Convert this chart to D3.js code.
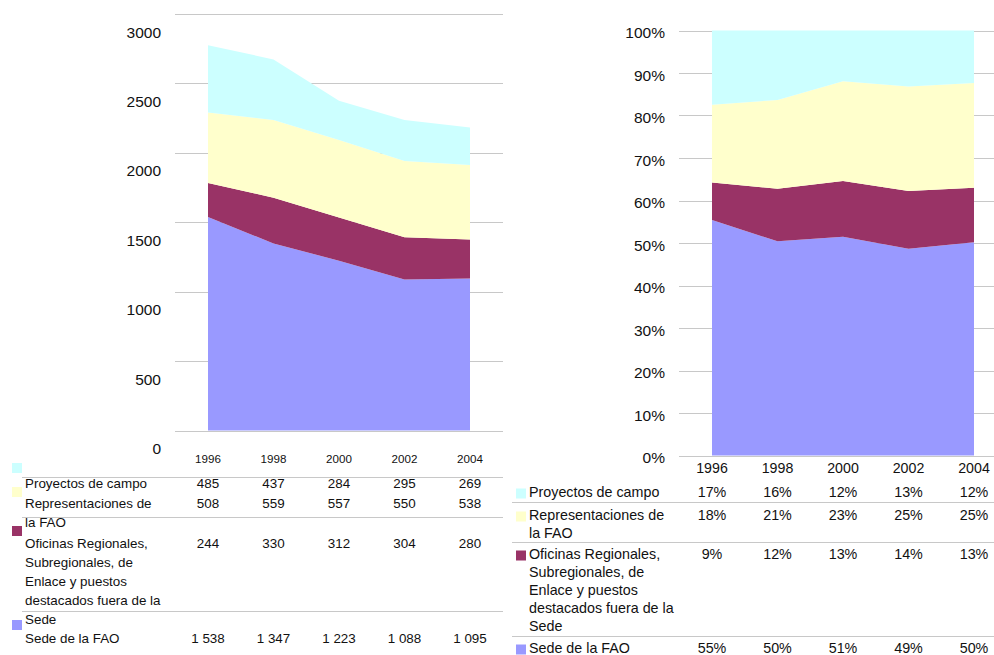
<!DOCTYPE html>
<html>
<head>
<meta charset="utf-8">
<script src="https://cdn.jsdelivr.net/npm/d3@7"></script>
<style>
  html, body { margin: 0; padding: 0; background: #fff; }
  svg { display: block; font-family: "Liberation Sans", Arial, Helvetica, sans-serif; fill: #111; }
</style>
</head>
<body>
<svg id="chart" width="994" height="655"></svg>
<script>
// ---------- DATA ----------
const years = ["1996", "1998", "2000", "2002", "2004"];
const seriesKeys = ["sede", "oficinas", "representaciones", "proyectos"]; // stacking order, bottom -> top
const proyectos = [485, 437, 284, 295, 269];
const representaciones = [508, 559, 557, 550, 538];
const oficinas = [244, 330, 312, 304, 280];
const sede = [1538, 1347, 1223, 1088, 1095];
const rowKeys = ["proyectos", "representaciones", "oficinas", "sede"]; // table order
const rowLabelsLeft = [
  ["Proyectos de campo"],
  ["Representaciones de", "la FAO"],
  ["Oficinas Regionales,", "Subregionales, de", "Enlace y puestos", "destacados fuera de la", "Sede"],
  ["Sede de la FAO"]
];
const rowLabelsRight = rowLabelsLeft;
const seriesColors = { proyectos: "#CCFFFF", representaciones: "#FFFFCC", oficinas: "#993366", sede: "#9999FF" };
const leftTicks = [0, 500, 1000, 1500, 2000, 2500, 3000];
const rightTicks = [0, 0.1, 0.2, 0.3, 0.4, 0.5, 0.6, 0.7, 0.8, 0.9, 1.0];

// ---------- PREP ----------
const valuesByKey = { proyectos, representaciones, oficinas, sede };
const rows = years.map((y, i) => {
  const r = { year: y };
  seriesKeys.forEach(k => r[k] = valuesByKey[k][i]);
  return r;
});
const totals = rows.map(r => seriesKeys.reduce((s, k) => s + r[k], 0));
const pctRows = rows.map((r, i) => {
  const p = { year: r.year };
  seriesKeys.forEach(k => p[k] = r[k] / totals[i]);
  return p;
});
const stackAbs = d3.stack().keys(seriesKeys)(rows);
const stackPct = d3.stack().keys(seriesKeys)(pctRows);

const locale = d3.formatLocale({ decimal: ",", thousands: "\u00a0", grouping: [3], currency: ["", ""] });
const fmtNum = v => locale.format(",d")(v).replace(/\u00a0/g, " ");
const fmtPct = d3.format(".0%");

const svg = d3.select("#chart");
const gridColor = "#c8c8c8";

// ---------- LEFT CHART ----------
const xL = d3.scalePoint().domain(years).range([208, 470]);
const yL = d3.scaleLinear().domain([0, 3000]).range([430.5, 14]);

const gL = svg.append("g");
gL.selectAll("line.grid").data(leftTicks).join("line")
  .attr("x1", 175).attr("x2", 503)
  .attr("y1", d => Math.round(yL(d)) + 0.5).attr("y2", d => Math.round(yL(d)) + 0.5)
  .attr("stroke", gridColor).attr("stroke-width", 1);

const areaL = d3.area().x(d => xL(d.data.year)).y0(d => yL(d[0])).y1(d => yL(d[1]));
gL.selectAll("path.area").data(stackAbs).join("path")
  .attr("d", areaL).attr("fill", d => seriesColors[d.key]);

gL.selectAll("text.ytick").data(leftTicks).join("text")
  .attr("x", 161).attr("y", d => yL(d) + 18)
  .attr("text-anchor", "end").attr("dominant-baseline", "central")
  .style("font-size", "15.5px").text(d => d);

// left table
gL.selectAll("text.year").data(years).join("text")
  .attr("x", d => xL(d)).attr("y", 463)
  .attr("text-anchor", "middle").style("font-size", "11.6px").text(d => d);

const leftRowStart = [488, 508, 547.5, 643];
const leftSquareY = [463, 487, 526, 620];
const leftLinesY = [477.5, 517.5, 611.5];
gL.selectAll("line.tbl").data(leftLinesY).join("line")
  .attr("x1", 22).attr("x2", 503).attr("y1", d => d).attr("y2", d => d)
  .attr("stroke", gridColor);
rowKeys.forEach((k, ri) => {
  gL.append("rect").attr("x", 12).attr("y", leftSquareY[ri]).attr("width", 10).attr("height", 10)
    .attr("fill", seriesColors[k]);
  gL.append("g").selectAll("text").data(rowLabelsLeft[ri]).join("text")
    .attr("x", 25).attr("y", (d, li) => leftRowStart[ri] + li * 19)
    .style("font-size", "13.4px").text(d => d);
  gL.append("g").selectAll("text").data(years).join("text")
    .attr("x", d => xL(d)).attr("y", leftRowStart[ri])
    .attr("text-anchor", "middle").style("font-size", "13.4px")
    .text((d, i) => fmtNum(valuesByKey[k][i]));
});

// ---------- RIGHT CHART ----------
const xR = d3.scalePoint().domain(years).range([712, 974]);
const yR = d3.scaleLinear().domain([0, 1]).range([455.5, 30.5]);
const gR = svg.append("g");
gR.selectAll("line.grid").data(rightTicks).join("line")
  .attr("x1", 679).attr("x2", 994)
  .attr("y1", d => Math.round(yR(d)) + 0.5).attr("y2", d => Math.round(yR(d)) + 0.5)
  .attr("stroke", gridColor).attr("stroke-width", 1);

const areaR = d3.area().x(d => xR(d.data.year)).y0(d => yR(d[0])).y1(d => yR(d[1]));
gR.selectAll("path.area").data(stackPct).join("path")
  .attr("d", areaR).attr("fill", d => seriesColors[d.key]);

gR.selectAll("text.ytick").data(rightTicks).join("text")
  .attr("x", 665).attr("y", d => yR(d) + 2)
  .attr("text-anchor", "end").attr("dominant-baseline", "central")
  .style("font-size", "15.5px").text(d => fmtPct(d));

gR.selectAll("text.year").data(years).join("text")
  .attr("x", d => xR(d)).attr("y", 473)
  .attr("text-anchor", "middle").style("font-size", "14.2px").text(d => d);

const rightLH = 18;
const rightRowStart = [497, 520, 559, 653];
const rightLinesY = [502, 542, 636];
gR.selectAll("line.tbl").data(rightLinesY).join("line")
  .attr("x1", 512).attr("x2", 994).attr("y1", d => d + 0.5).attr("y2", d => d + 0.5)
  .attr("stroke", gridColor);
rowKeys.forEach((k, ri) => {
  gR.append("rect").attr("x", 516).attr("y", rightRowStart[ri] - 8.5).attr("width", 10).attr("height", 10)
    .attr("fill", seriesColors[k]);
  gR.append("g").selectAll("text").data(rowLabelsRight[ri]).join("text")
    .attr("x", 529).attr("y", (d, li) => rightRowStart[ri] + li * rightLH)
    .style("font-size", "14.3px").text(d => d);
  gR.append("g").selectAll("text").data(years).join("text")
    .attr("x", d => xR(d)).attr("y", rightRowStart[ri])
    .attr("text-anchor", "middle").style("font-size", "14.3px")
    .text((d, i) => fmtPct(pctRows[i][k]));
});
</script>
</body>
</html>
